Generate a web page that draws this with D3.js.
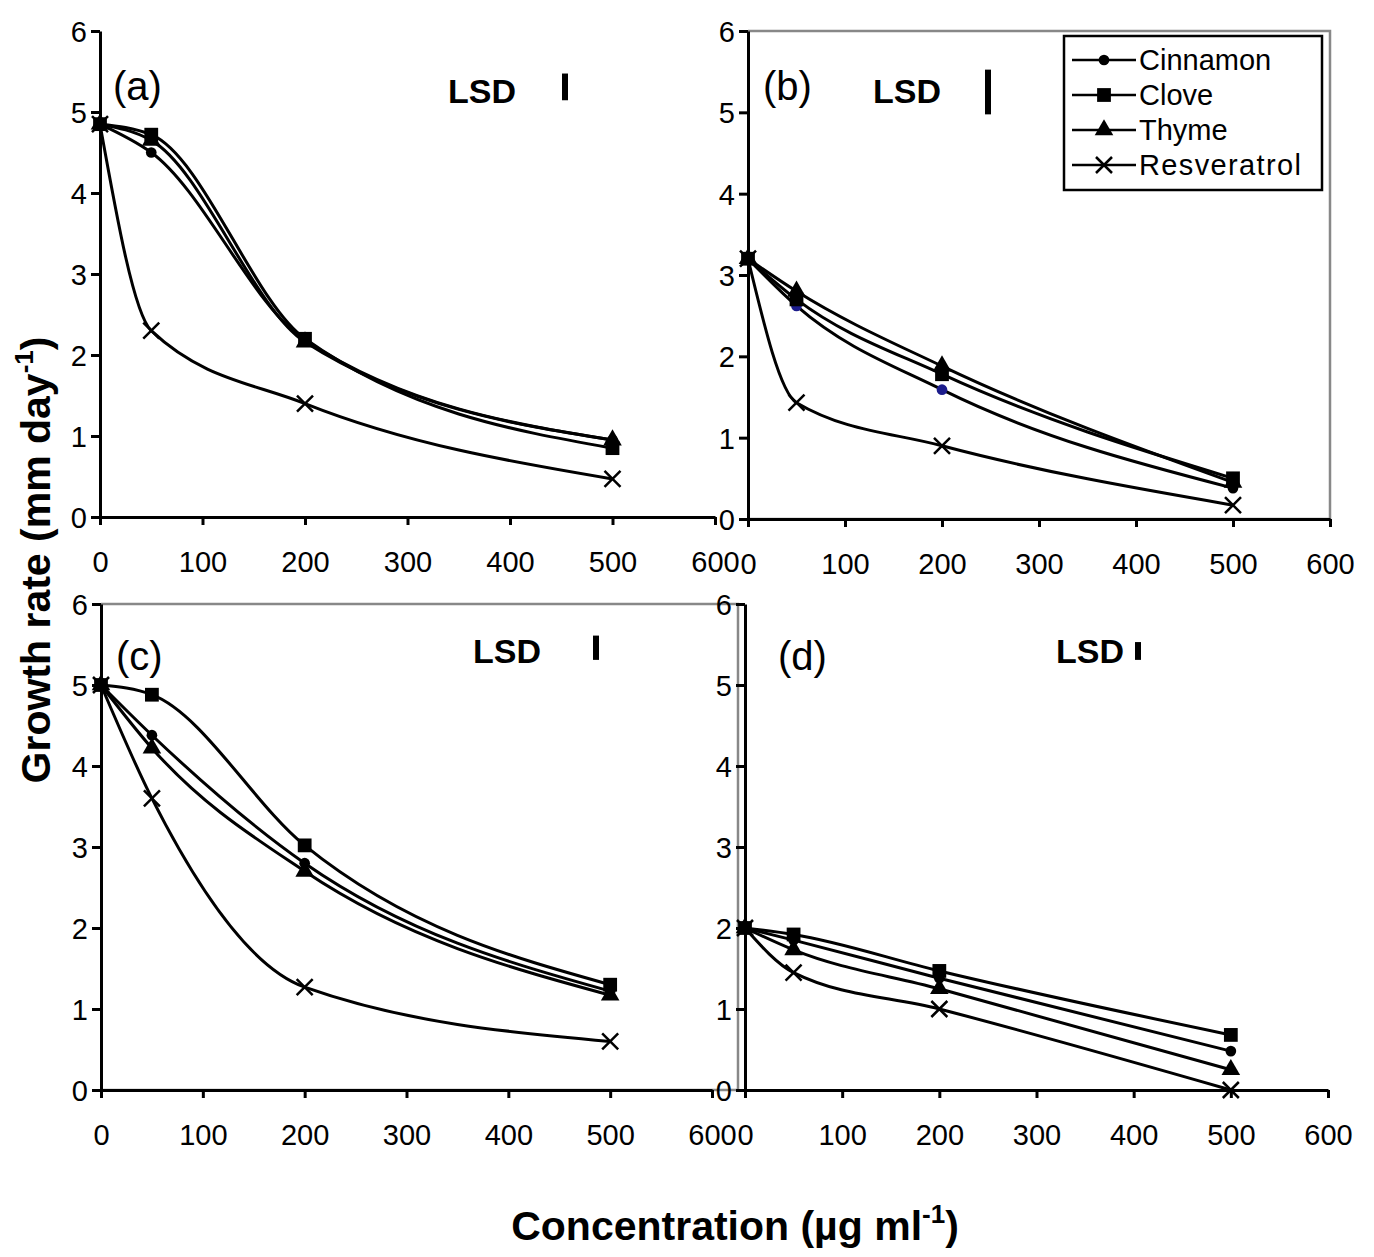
<!DOCTYPE html>
<html>
<head>
<meta charset="utf-8">
<script src="https://cdn.jsdelivr.net/npm/d3@7"></script>
<style>
body { margin: 0; background: #fff; }
text { font-family: "Liberation Sans", Arial, sans-serif; }
</style>
</head>
<body>
<svg width="1374" height="1257"></svg>
<script>
var conc = [0, 50, 200, 500];
var seriesNames = ["Cinnamon", "Clove", "Thyme", "Resveratrol"];
var xTicks = [0, 100, 200, 300, 400, 500, 600];
var yTicks = [0, 1, 2, 3, 4, 5, 6];

// growth rate, one array per panel and series
var aCinnamon = [4.85, 4.5, 2.18, 0.95];
var aClove = [4.85, 4.72, 2.2, 0.85];
var aThyme = [4.85, 4.65, 2.16, 0.95];
var aResv = [4.85, 2.3, 1.4, 0.47];

var bCinnamon = [3.2, 2.62, 1.59, 0.38];
var bClove = [3.2, 2.7, 1.78, 0.5];
var bThyme = [3.2, 2.8, 1.88, 0.45];
var bResv = [3.2, 1.43, 0.9, 0.17];

var cCinnamon = [5.0, 4.38, 2.8, 1.22];
var cClove = [5.0, 4.88, 3.02, 1.3];
var cThyme = [5.0, 4.22, 2.7, 1.17];
var cResv = [5.0, 3.6, 1.27, 0.6];

var dCinnamon = [2.0, 1.85, 1.38, 0.48];
var dClove = [2.0, 1.92, 1.47, 0.68];
var dThyme = [2.0, 1.73, 1.25, 0.25];
var dResv = [2.0, 1.45, 1.0, 0.0];

// LSD bar length and where its middle sits (growth-rate units)
var lsd = [0.33, 0.55, 0.3, 0.22];
var lsdMid = [5.31, 5.25, 5.46, 5.42];
var panelLabels = ["(a)", "(b)", "(c)", "(d)"];

var panels = [
    {series: [aCinnamon, aClove, aThyme, aResv], x0: 100, x1: 715, y0: 517, y1: 31, frame: false,
     lab: [113, 100], lsdText: [448, 103], lsdX: 565},
    {series: [bCinnamon, bClove, bThyme, bResv], x0: 748, x1: 1330, y0: 519, y1: 31, frame: true,
     lab: [763, 100], lsdText: [873, 103], lsdX: 988, blue: true},
    {series: [cCinnamon, cClove, cThyme, cResv], x0: 101, x1: 712, y0: 1090, y1: 604, frame: true, frameRight: 738,
     lab: [116, 670], lsdText: [473, 663], lsdX: 596},
    {series: [dCinnamon, dClove, dThyme, dResv], x0: 745, x1: 1328, y0: 1090, y1: 604, frame: false,
     lab: [778, 670], lsdText: [1056, 663], lsdX: 1138}
];

var svg = d3.select("svg");

function drawMarker(g, kind, cx, cy, fill) {
    if (kind === 3) {
        var s = 8;
        g.append("path")
            .attr("d", "M" + (cx - s) + "," + (cy - s) + "L" + (cx + s) + "," + (cy + s) +
                "M" + (cx - s) + "," + (cy + s) + "L" + (cx + s) + "," + (cy - s))
            .attr("stroke", "#000").attr("stroke-width", 2.5).attr("fill", "none");
        return;
    }
    var sym = [d3.symbolCircle, d3.symbolSquare, d3.symbolTriangle][kind];
    var size = [90, 190, 150][kind];
    g.append("path")
        .attr("d", d3.symbol().type(sym).size(size)())
        .attr("transform", "translate(" + cx + "," + cy + ")")
        .attr("fill", fill || "#000");
}

panels.forEach(function(p, i) {
    var x = d3.scaleLinear().domain([0, 600]).range([p.x0, p.x1]);
    var y = d3.scaleLinear().domain([0, 6]).range([p.y0, p.y1]);
    var g = svg.append("g");

    if (p.frame) {
        var r = p.frameRight || p.x1;
        g.append("path")
            .attr("d", "M" + p.x0 + "," + p.y1 + "H" + r + "V" + p.y0 + "H" + p.x0)
            .attr("stroke", "#888").attr("stroke-width", 2.5).attr("fill", "none");
    }

    var line = d3.line()
        .x(function(d, j) { return x(conc[j]); })
        .y(function(d) { return y(d); })
        .curve(d3.curveMonotoneX);

    p.series.forEach(function(vals) {
        g.append("path")
            .attr("d", line(vals))
            .attr("fill", "none")
            .attr("stroke", "#000")
            .attr("stroke-width", 3);
    });
    p.series.forEach(function(vals, k) {
        vals.forEach(function(v, j) {
            var fill = (p.blue && k === 0 && (j === 1 || j === 2)) ? "#1c1c8c" : null;
            drawMarker(g, k, x(conc[j]), y(v), fill);
        });
    });

    var xAxis = g.append("g")
        .attr("transform", "translate(0," + p.y0 + ")")
        .call(d3.axisBottom(x).tickValues(xTicks).tickFormat(d3.format("d"))
            .tickSize(8).tickSizeOuter(0).tickPadding(26));
    var yAxis = g.append("g")
        .attr("transform", "translate(" + p.x0 + ",0)")
        .call(d3.axisLeft(y).tickValues(yTicks).tickFormat(d3.format("d"))
            .tickSize(9).tickSizeOuter(0).tickPadding(4));
    [xAxis, yAxis].forEach(function(ax) {
        ax.select(".domain").attr("stroke", "#000").attr("stroke-width", 3);
        ax.selectAll(".tick line").attr("stroke", "#000").attr("stroke-width", 3);
        ax.selectAll(".tick text").attr("font-size", 29).attr("fill", "#000")
            .style("font-family", "'Liberation Sans', Arial, sans-serif");
    });
    yAxis.selectAll(".tick text").attr("dy", "0.36em");

    g.append("text").attr("x", p.lab[0]).attr("y", p.lab[1])
        .attr("font-size", 40).text(panelLabels[i]);
    g.append("text").attr("x", p.lsdText[0]).attr("y", p.lsdText[1])
        .attr("font-size", 34).attr("font-weight", "bold").text("LSD");
    g.append("line")
        .attr("x1", p.lsdX).attr("x2", p.lsdX)
        .attr("y1", y(lsdMid[i] - lsd[i] / 2)).attr("y2", y(lsdMid[i] + lsd[i] / 2))
        .attr("stroke", "#000").attr("stroke-width", 6);
});

// legend
var leg = svg.append("g").attr("transform", "translate(1064,36)");
leg.append("rect").attr("width", 258).attr("height", 154)
    .attr("fill", "#fff").attr("stroke", "#000").attr("stroke-width", 2.5);
seriesNames.forEach(function(name, k) {
    var ry = 24 + k * 35;
    leg.append("line").attr("x1", 8).attr("x2", 72).attr("y1", ry).attr("y2", ry)
        .attr("stroke", "#000").attr("stroke-width", 2.5);
    drawMarker(leg, k, 40, ry);
    leg.append("text").attr("x", 75).attr("y", ry + 10).attr("font-size", 29)
        .attr("textLength", k === 3 ? 162 : null).text(name);
});

// axis titles
svg.append("text")
    .attr("transform", "translate(50,560) rotate(-90)")
    .attr("text-anchor", "middle").attr("font-size", 41).attr("font-weight", "bold")
    .html("Growth rate (mm day<tspan dy='-17' font-size='26'>-1</tspan><tspan dy='17'>)</tspan>");
svg.append("text")
    .attr("x", 735).attr("y", 1240)
    .attr("text-anchor", "middle").attr("font-size", 41).attr("font-weight", "bold")
    .html("Concentration (µg ml<tspan dy='-17' font-size='26'>-1</tspan><tspan dy='17'>)</tspan>");
</script>
</body>
</html>
